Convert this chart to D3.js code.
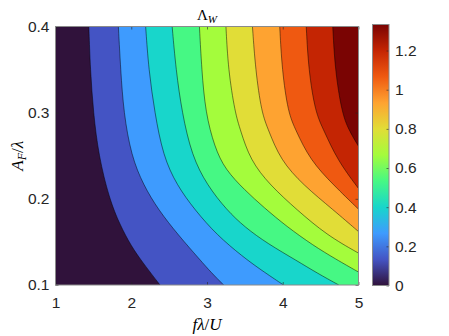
<!DOCTYPE html>
<html>
<head>
<meta charset="utf-8">
<script src="https://cdn.jsdelivr.net/npm/d3@7"></script>
<style>
body{margin:0;background:#fff;}
.tick text{font-family:"Liberation Sans",Arial,sans-serif;font-size:15.5px;fill:#262626;}
.tick line{stroke:#262626;stroke-width:0.6;}
</style>
</head>
<body>
<script>
// contour levels of Lambda_W and the turbo colours of the 11 filled bands
var levels=[0.133,0.267,0.4,0.533,0.667,0.8,0.933,1.067,1.2,1.333];
var bandColors=["#30123b","#4454c4","#3e9bfe","#18d6cb","#46f884","#a4fc3c","#e1dd37","#fea331","#ef5911","#c42503","#7a0403"];

// contour lines, points are [f*lambda/U, A_F/lambda]
var c1=[[1.44,0.4],[1.46,0.35],[1.50,0.30],[1.57,0.25],[1.71,0.20],[1.85,0.17],[2.0,0.145],[2.16,0.125],[2.38,0.1]];
var c2=[[1.83,0.4],[1.86,0.35],[1.90,0.30],[2.0,0.25],[2.16,0.216],[2.36,0.187],[2.62,0.158],[2.91,0.129],[3.06,0.114],[3.22,0.1]];
var c3=[[2.19,0.4],[2.23,0.35],[2.31,0.30],[2.42,0.25],[2.60,0.216],[2.84,0.187],[3.13,0.158],[3.47,0.133],[3.72,0.117],[4.01,0.1]];
var c4=[[2.54,0.4],[2.59,0.35],[2.67,0.30],[2.80,0.25],[3.0,0.216],[3.26,0.187],[3.5,0.167],[3.8,0.148],[4.19,0.128],[4.45,0.114],[4.74,0.1]];
var c5=[[2.90,0.4],[2.93,0.35],[2.98,0.30],[3.1,0.26],[3.24,0.234],[3.5,0.21],[3.75,0.19],[4.05,0.168],[4.4,0.146],[4.7,0.13],[5,0.115]];
var c6=[[3.25,0.4],[3.28,0.35],[3.37,0.30],[3.44,0.28],[3.57,0.245],[3.83,0.216],[4.19,0.187],[4.58,0.158],[5,0.137]];
var c7=[[3.60,0.4],[3.64,0.35],[3.72,0.30],[3.81,0.28],[3.97,0.245],[4.27,0.216],[4.67,0.187],[5,0.162]];
var c8=[[3.96,0.4],[3.99,0.35],[4.07,0.30],[4.17,0.28],[4.36,0.245],[4.67,0.216],[5,0.188]];
var c9=[[4.31,0.4],[4.34,0.35],[4.43,0.30],[4.54,0.28],[4.72,0.245],[5,0.212]];
var c10=[[4.66,0.4],[4.69,0.35],[4.78,0.30],[4.87,0.28],[5,0.261]];
var contourLines=[c1,c2,c3,c4,c5,c6,c7,c8,c9,c10];

var xTicks=[1,2,3,4,5];
var yTicks=[0.1,0.2,0.3,0.4];
var cbTicks=[0,0.2,0.4,0.6,0.8,1,1.2];

var width=449,height=336;
var svg=d3.select("body").append("svg").attr("width",width).attr("height",height);

var x=d3.scaleLinear().domain([1,5]).range([55.5,358.5]);
var y=d3.scaleLinear().domain([0.1,0.4]).range([285,26.5]);
var cb=d3.scaleLinear().domain([0,1.333]).range([285.5,24.5]);

svg.append("clipPath").attr("id","plotclip").append("rect")
	.attr("x",x(1)).attr("y",y(0.4)).attr("width",x(5)-x(1)).attr("height",y(0.1)-y(0.4));

var g=svg.append("g").attr("clip-path","url(#plotclip)");
g.append("rect").attr("x",x(1)).attr("y",y(0.4)).attr("width",x(5)-x(1)).attr("height",y(0.1)-y(0.4)).attr("fill",bandColors[0]);

var lineGen=d3.line().curve(d3.curveBasis).x(function(d){return x(d[0]);}).y(function(d){return y(d[1]);});

// region above each level = right of its contour line
contourLines.forEach(function(pts,i){
	var last=pts[pts.length-1];
	var corners=last[1]<=0.1?[[5,0.1],[5,0.4]]:[[5,0.4]];
	var d=lineGen(pts)+corners.map(function(c){return "L"+x(c[0])+","+y(c[1]);}).join("")+"Z";
	g.append("path").attr("d",d).attr("fill",bandColors[i+1]).attr("stroke","none");
});
contourLines.forEach(function(pts){
	g.append("path").attr("d",lineGen(pts)).attr("fill","none").attr("stroke","#000").attr("stroke-width",0.6).attr("stroke-opacity",0.8);
});

// axes, ticks pointing inward like matlab
var xaxis=svg.append("g").attr("transform","translate(0,"+y(0.1)+")")
	.call(d3.axisBottom(x).tickValues(xTicks).tickSize(-3).tickPadding(12).tickFormat(d3.format("d")));
var yaxis=svg.append("g").attr("transform","translate("+x(1)+",0)")
	.call(d3.axisLeft(y).tickValues(yTicks).tickSize(-3).tickPadding(6).tickFormat(d3.format(".1f")));
svg.append("g").attr("transform","translate(0,"+y(0.4)+")")
	.call(d3.axisTop(x).tickValues(xTicks).tickSize(-3).tickFormat(""));
svg.append("g").attr("transform","translate("+x(5)+",0)")
	.call(d3.axisRight(y).tickValues(yTicks).tickSize(-3).tickFormat(""));
svg.selectAll(".domain").remove();

svg.append("rect").attr("x",x(1)).attr("y",y(0.4)).attr("width",x(5)-x(1)).attr("height",y(0.1)-y(0.4))
	.attr("fill","none").attr("stroke","#8a8a8a").attr("stroke-width",1);

// colorbar
var grad=svg.append("defs").append("linearGradient").attr("id","turbo").attr("x1",0).attr("y1",1).attr("x2",0).attr("y2",0);
bandColors.forEach(function(c,i){
	grad.append("stop").attr("offset",(i/(bandColors.length-1)*100)+"%").attr("stop-color",c);
});
var cbX=372.5,cbW=16.5;
svg.append("rect").attr("x",cbX).attr("y",cb(1.333)).attr("width",cbW).attr("height",cb(0)-cb(1.333)).attr("fill","url(#turbo)");
var cbaxis=svg.append("g").attr("transform","translate("+(cbX+cbW)+",0)")
	.call(d3.axisRight(cb).tickValues(cbTicks).tickSize(-2.5).tickPadding(6).tickFormat(function(d){return String(d);}));
cbaxis.select(".domain").remove();
svg.append("rect").attr("x",cbX).attr("y",cb(1.333)).attr("width",cbW).attr("height",cb(0)-cb(1.333))
	.attr("fill","none").attr("stroke","#8a8a8a").attr("stroke-width",1);

// title and labels
var serif='"Liberation Serif","Times New Roman",serif';
var title=svg.append("text").attr("x",(x(1)+x(5))/2).attr("y",20).attr("text-anchor","middle")
	.style("font-family",serif).style("font-size","15px").attr("fill","#000");
title.append("tspan").text("Λ");
title.append("tspan").attr("dy",3).style("font-size","11px").style("font-style","italic").text("W");

var xl=svg.append("text").attr("x",(x(1)+x(5))/2).attr("y",330).attr("text-anchor","middle")
	.style("font-family",serif).style("font-size","17px").attr("fill","#000");
xl.append("tspan").style("font-style","italic").text("fλ");
xl.append("tspan").text("/");
xl.append("tspan").style("font-style","italic").text("U");

var yl=svg.append("text").attr("transform","translate(23,"+((y(0.1)+y(0.4))/2)+") rotate(-90)").attr("text-anchor","middle")
	.style("font-family",serif).style("font-size","17px").attr("fill","#000");
yl.append("tspan").style("font-style","italic").text("A");
yl.append("tspan").attr("dy",3).style("font-size","12px").style("font-style","italic").text("F");
yl.append("tspan").attr("dy",-3).text("/");
yl.append("tspan").style("font-style","italic").text("λ");
</script>
</body>
</html>
